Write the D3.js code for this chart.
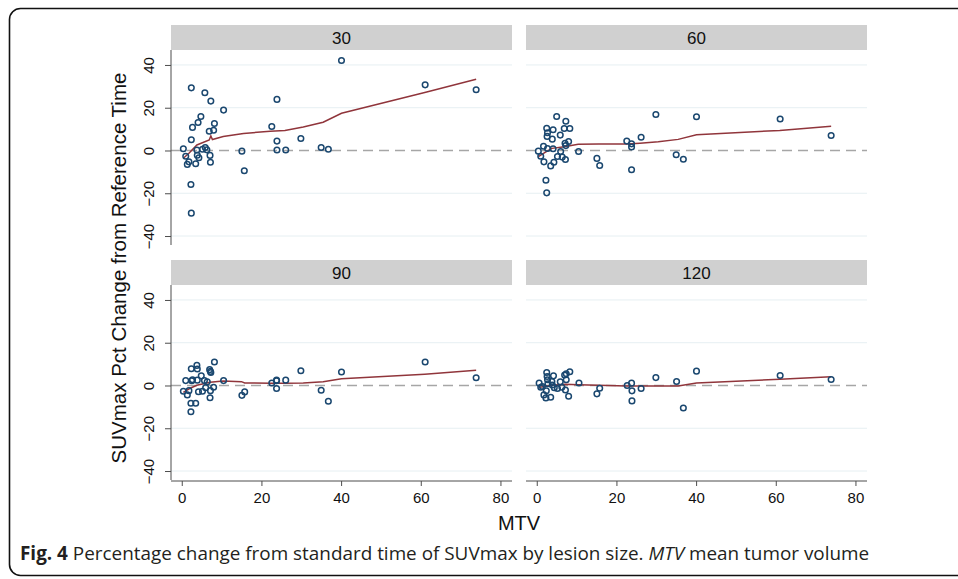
<!DOCTYPE html>
<html>
<head>
<meta charset="utf-8">
<script src="https://cdn.jsdelivr.net/npm/d3@7"></script>
<style>
  html, body { margin: 0; padding: 0; background: #fff; }
  svg { display: block; }
</style>
</head>
<body>
<svg id="chart" width="958" height="579"></svg>
<script>
// ---- data ----
const stripLabels = ["30", "60", "90", "120"];
const xTicks = [0, 20, 40, 60, 80];
const yTicks = [-40, -20, 0, 20, 40];

const mtv30 = [0.4,1.0,1.4,1.8,2.4,2.3,2.4,2.4,2.7,3.5,3.8,3.9,4.1,4.3,4.8,5.2,5.8,5.9,6.3,6.9,7.1,7.2,7.3,8.0,8.2,10.5,15.1,15.7,22.6,23.9,23.9,23.9,26.1,29.9,35.0,36.8,40.1,61.1,73.9];
const pct30 = [0.8,-2.7,-6.5,-5.3,29.3,-15.9,-29.3,5.0,10.8,-6.2,0.2,-2.2,13.1,-3.4,15.9,0.6,27.0,1.4,0.3,9.0,-2.3,-5.5,23.1,9.5,12.6,18.9,-0.3,-9.5,11.2,23.9,4.4,0.2,0.2,5.6,1.4,0.6,42.1,30.7,28.4];

const mtv60 = [0.4,1.0,1.7,1.8,2.3,2.5,2.5,2.6,2.7,2.7,3.5,3.9,4.1,4.1,4.3,5.0,5.2,5.9,6.0,6.4,6.9,7.1,7.2,7.3,7.3,8.0,8.3,10.5,15.1,15.8,22.6,23.8,23.8,23.8,26.2,29.9,35.0,36.8,40.1,61.1,73.9];
const pct60 = [-0.3,-2.7,2.0,-5.3,-13.9,-19.8,10.4,6.6,8.3,0.9,-7.2,5.3,9.7,0.8,-5.5,15.9,-2.8,7.2,-0.5,-3.1,10.3,3.4,-4.2,13.7,2.3,4.2,10.3,-0.5,-3.7,-7.0,4.4,3.1,1.6,-9.0,6.2,16.8,-2.0,-4.1,15.8,14.7,7.0];

const mtv90 = [0.4,1.0,1.4,1.8,2.3,2.3,2.4,2.5,2.7,3.5,3.8,3.9,3.9,4.2,4.9,5.2,5.7,6.0,6.4,7.0,7.1,7.2,7.3,7.2,8.0,8.2,10.5,15.1,15.8,22.6,23.8,23.8,23.8,26.1,29.9,35.0,36.8,40.1,61.1,73.9];
const pct90 = [-2.7,2.3,-4.4,-2.4,-8.3,-12.3,7.8,2.2,2.7,-8.3,9.4,7.7,2.5,-2.9,4.5,-2.7,2.3,-1.0,1.7,7.4,-5.7,6.6,6.1,-2.4,-0.8,11.0,2.3,-4.6,-3.0,1.2,2.2,2.5,-1.4,2.5,6.9,-2.2,-7.4,6.3,11.0,3.6];

const mtv120 = [0.6,1.0,1.4,1.8,2.3,2.4,2.5,2.6,2.7,2.8,3.5,3.8,3.9,4.2,4.4,5.2,5.9,6.3,7.0,7.2,7.4,7.4,8.0,8.3,10.6,15.1,15.8,22.7,23.8,23.9,23.9,26.2,29.9,35.1,36.8,40.1,61.1,73.9];
const pct120 = [1.1,-0.8,-0.5,-4.4,-5.8,-2.5,6.1,4.2,2.7,0.8,-5.5,1.9,0.2,4.5,-1.0,-1.4,1.7,-0.8,4.9,-2.1,2.7,5.5,-5.0,6.4,1.2,-3.9,-1.3,0.0,1.1,-2.5,-7.2,-1.4,3.7,1.9,-10.5,6.7,4.7,2.8];

// lowess smooth lines
const fitX30 = [0.4,1.8,3.8,6.9,7.3,7.7,10.4,15.5,22.2,25.9,30.5,35.5,40.1,61.0,73.9];
const fitY30 = [-3.6,-1.3,2.6,4.9,6.8,5.1,6.5,8.0,9.0,9.3,11.0,13.2,17.4,27.1,33.3];
const fitX60 = [0.4,2.1,3.8,6.9,10.4,15.5,22.6,25.9,30.5,35.5,40.1,61.0,73.9];
const fitY60 = [-2.9,-0.9,1.0,1.8,2.9,3.0,3.0,3.4,4.1,5.2,7.4,9.4,11.3];
const fitX90 = [0.4,2.1,3.8,7.1,10.4,15.0,15.8,22.6,25.9,30.5,35.5,40.1,61.0,73.9];
const fitY90 = [-3.2,-1.3,0.1,1.5,2.1,1.8,1.2,1.0,1.0,1.2,1.8,3.1,5.3,7.1];
const fitX120 = [0.4,3.8,7.1,10.4,15.5,22.6,25.9,30.5,35.5,40.1,61.0,73.9];
const fitY120 = [-0.9,0.1,0.6,0.4,0.1,-0.2,-0.2,-0.2,-0.2,1.2,2.9,4.1];

const xTitle = "MTV";
const yTitle = "SUVmax Pct Change from Reference Time";

// ---- layout ----
const panels = [
  { label: stripLabels[0], mtv: mtv30, pct: pct30, fx: fitX30, fy: fitY30, col: 0, row: 0 },
  { label: stripLabels[1], mtv: mtv60, pct: pct60, fx: fitX60, fy: fitY60, col: 1, row: 0 },
  { label: stripLabels[2], mtv: mtv90, pct: pct90, fx: fitX90, fy: fitY90, col: 0, row: 1 },
  { label: stripLabels[3], mtv: mtv120, pct: pct120, fx: fitX120, fy: fitY120, col: 1, row: 1 }
];
const colLeft = [171, 526];
const rowTop = [50, 285];
const pw = 341, ph = 195, stripH = 25;

const x = d3.scaleLinear().domain([-2.7, 82.9]).range([0, pw]);
const y = d3.scaleLinear().domain([-44.2, 47.0]).range([ph, 0]);

const svg = d3.select("#chart");
const FONT = "'Liberation Sans', Arial, Helvetica, sans-serif";

// outer frame
svg.append("rect")
  .attr("x", 9.5).attr("y", 8.5)
  .attr("width", 970).attr("height", 567)
  .attr("rx", 11).attr("ry", 11)
  .attr("fill", "none").attr("stroke", "#111").attr("stroke-width", 1.6);

const axisColor = "#4d4d4d";

panels.forEach(p => {
  const g = svg.append("g").attr("transform", `translate(${colLeft[p.col]},${rowTop[p.row]})`);

  // strip
  g.append("rect").attr("x", 0).attr("y", -stripH).attr("width", pw).attr("height", stripH)
    .attr("fill", "#d0d0d0");
  g.append("text").attr("x", pw / 2).attr("y", -stripH / 2 + 6)
    .attr("text-anchor", "middle").attr("font-family", FONT).attr("font-size", 17)
    .attr("fill", "#111").text(p.label);

  // gridlines
  g.selectAll("line.grid").data(yTicks.filter(t => t !== 0)).join("line")
    .attr("class", "grid")
    .attr("x1", 0).attr("x2", pw)
    .attr("y1", d => y(d)).attr("y2", d => y(d))
    .attr("stroke", "#e6eff2").attr("stroke-width", 1);

  // zero reference line
  g.append("line").attr("x1", 0).attr("x2", pw).attr("y1", y(0)).attr("y2", y(0))
    .attr("stroke", "#a6a6a6").attr("stroke-width", 1.6).attr("stroke-dasharray", "10,6");

  // lowess line
  const fitPts = p.fx.map((v, i) => [v, p.fy[i]]);
  g.append("path").datum(fitPts)
    .attr("d", d3.line().x(d => x(d[0])).y(d => y(d[1])))
    .attr("fill", "none").attr("stroke", "#90353b").attr("stroke-width", 1.5);

  // points
  const pts = p.mtv.map((v, i) => [v, p.pct[i]]);
  g.selectAll("circle").data(pts).join("circle")
    .attr("cx", d => x(d[0])).attr("cy", d => y(d[1])).attr("r", 2.8)
    .attr("fill", "none").attr("stroke", "#1a476f").attr("stroke-width", 1.5);

  // y axis (left column)
  if (p.col === 0) {
    const ya = g.append("g").call(d3.axisLeft(y).tickValues(yTicks).tickSize(6).tickFormat(d3.format("d")));
    ya.attr("font-family", FONT);
    ya.select(".domain").attr("stroke", axisColor).attr("d", `M0,0V${ph}`);
    ya.selectAll(".tick line").attr("stroke", axisColor);
    ya.selectAll(".tick text")
      .attr("transform", "rotate(-90)")
      .attr("x", 0).attr("y", -17.5).attr("dy", 0)
      .attr("text-anchor", "middle")
      .attr("font-family", FONT).attr("font-size", 15).attr("fill", "#111")
      .text(d => d < 0 ? "\u2212" + Math.abs(d) : d);
  }
  // x axis (bottom row)
  if (p.row === 1) {
    const xa = g.append("g").attr("transform", `translate(0,${ph + 1})`)
      .call(d3.axisBottom(x).tickValues(xTicks).tickSize(5).tickPadding(6));
    xa.attr("font-family", FONT);
    xa.select(".domain").attr("stroke", axisColor).attr("d", `M0,0H${pw}`);
    xa.selectAll(".tick line").attr("stroke", axisColor);
    xa.selectAll(".tick text").attr("font-family", FONT).attr("font-size", 15).attr("fill", "#111");
  }
});

// axis titles
svg.append("text")
  .attr("transform", `translate(126,268) rotate(-90)`)
  .attr("text-anchor", "middle").attr("font-family", FONT).attr("font-size", 20.5).attr("fill", "#111")
  .text(yTitle);
svg.append("text")
  .attr("x", 519).attr("y", 530)
  .attr("text-anchor", "middle").attr("font-family", FONT).attr("font-size", 20).attr("fill", "#111")
  .text(xTitle);

// caption
const cap = svg.append("text").attr("x", 20).attr("y", 560)
  .attr("font-family", "'Open Sans', sans-serif").attr("font-size", 18.9).attr("fill", "#231f20");
cap.append("tspan").attr("font-weight", "bold").text("Fig. 4");
cap.append("tspan").text(" Percentage change from standard time of SUVmax by lesion size. ");
cap.append("tspan").attr("font-style", "italic").text("MTV");
cap.append("tspan").text(" mean tumor volume");
</script>
</body>
</html>
